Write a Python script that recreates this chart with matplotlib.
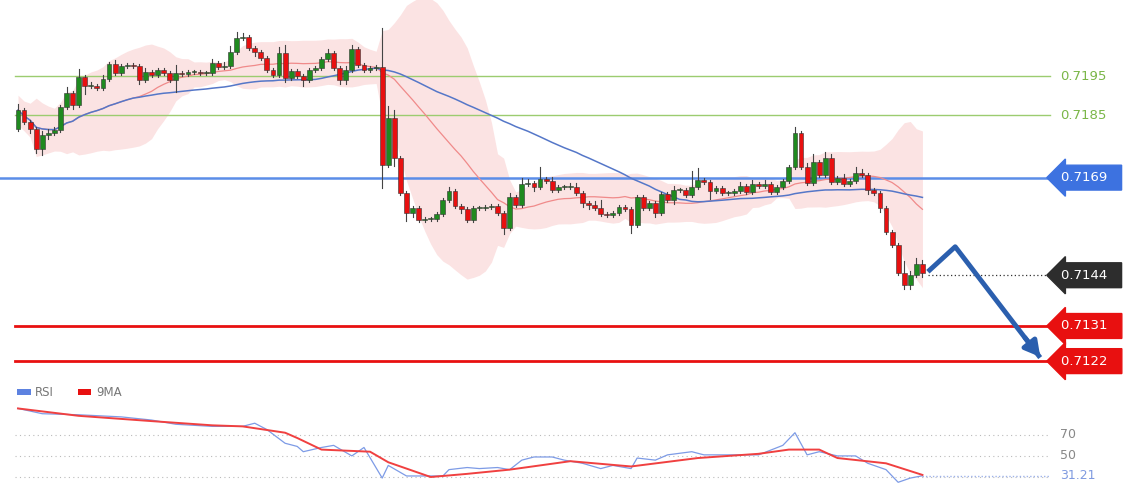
import numpy as np
import pandas as pd
import matplotlib
matplotlib.use("Agg")
import matplotlib.pyplot as plt
from matplotlib.patches import Rectangle

closes = [0.71863,0.71833,0.71815,0.71764,0.71799,0.71805,0.71812,0.71871,0.71907,0.71876,
0.71948,0.71925,0.71925,0.71920,0.71943,0.71981,0.71958,0.71976,0.71979,0.71976,
0.71940,0.71961,0.71953,0.71966,0.71958,0.71940,0.71958,0.71956,0.71961,0.71961,
0.71958,0.71958,0.71984,0.71973,0.71976,0.72012,0.72048,0.72050,0.72022,0.72012,
0.71997,0.71966,0.71953,0.72009,0.71945,0.71963,0.71950,0.71940,0.71966,0.71971,
0.71994,0.72009,0.71971,0.71940,0.71966,0.72020,0.71979,0.71966,0.71971,0.71973,
0.71723,0.71843,0.71741,0.71651,0.71600,0.71613,0.71582,0.71584,0.71584,0.71597,
0.71633,0.71656,0.71618,0.71610,0.71582,0.71613,0.71613,0.71615,0.71618,0.71600,
0.71561,0.71641,0.71620,0.71674,0.71677,0.71666,0.71687,0.71682,0.71659,0.71666,
0.71666,0.71666,0.71651,0.71625,0.71620,0.71613,0.71597,0.71595,0.71600,0.71615,
0.71610,0.71569,0.71641,0.71613,0.71625,0.71600,0.71648,0.71633,0.71659,0.71659,
0.71646,0.71666,0.71684,0.71679,0.71656,0.71664,0.71651,0.71651,0.71656,0.71669,
0.71653,0.71674,0.71669,0.71674,0.71653,0.71666,0.71682,0.71718,0.71805,0.71718,
0.71677,0.71730,0.71697,0.71741,0.71679,0.71689,0.71674,0.71682,0.71702,0.71697,
0.71659,0.71651,0.71613,0.71551,0.71518,0.71446,0.71415,0.71441,0.71469,0.71446]
first_open = 0.71815
# wick lengths in pips
up_wick = [1.5,0.5,0.5,0.5,1,1,0.8,0.5,1.5,0.5, 2,0.5,1,0.5,1,0.5,1,0.5,0.5,0.5,
0.5,1,0.5,0.5,0.5,0.5,2,0.5,0.5,0.5, 0.5,0.5,1,0.5,1,1.5,1.5,1,0.5,0.5,
0.5,0.5,0.5,1.5,2,0.5,0.5,0.5,0.5,0.5, 0.5,1,0.5,0.5,1,1,0.5,0.5,0.5,0.5,
10,3,2,0.5,0.5,0.5,0.5,0.5,0.5,0.5, 0.5,1,0.5,0.5,0.5,0.5,0.5,0.5,0.5,0.5,
0.5,1,0.5,1.5,1,0.5,3,0.5,1,0.5, 0.5,1,1,0.5,0.5,1,2,0.5,0.5,0.5,
0.5,0.5,0.5,0.5,0.5,0.5,0.5,0.5,1,0.5, 0.5,4,3,0.5,0.5,0.5,0.5,0.5,0.5,1,
0.5,1,0.5,1,0.5,0.5,0.5,0.5,1.5,0.5, 1,2,0.5,1.5,1,0.5,1,0.5,1.5,1,
0.5,0.5,0.5,0.5,0.5,0.5,3,1,1.5,1]
down_wick = [0.5,0.5,1,1,1.5,1,0.5,0.5,0.5,1, 0.5,2,0.5,0.5,0.5,0.5,0.5,0.5,0.5,0.5,
1,0.5,0.5,0.5,0.5,0.5,3,0.5,0.5,0.5, 0.5,0.5,0.5,0.5,0.5,0.5,0.5,0.5,0.5,1,
0.5,0.5,0.5,0.5,1,0.5,0.5,1.5,0.5,0.5, 0.5,0.5,0.5,1,1,0.5,0.5,0.5,0.5,0.5,
6,0.5,2,0.5,2,1,0.5,0.5,0.5,0.5, 0.5,0.5,0.5,1,0.5,0.5,0.5,0.5,0.5,0.5,
1.5,0.5,0.5,0.5,0.5,1,0.5,0.5,0.5,0.5, 0.5,0.5,0.5,1,1,0.5,0.5,0.5,0.5,0.5,
0.5,2,0.5,0.5,0.5,1,0.5,0.5,1,0.5, 0.5,0.5,0.5,0.5,2,0.5,0.5,0.5,0.5,0.5,
0.5,0.5,0.5,0.5,0.5,0.5,0.5,0.5,0.5,0.5, 0.5,0.5,0.5,0.5,0.5,0.5,0.5,0.5,0.5,0.5,
1,0.5,1,0.5,0.5,0.5,1,1,0.5,1]

rsi_idx = [0,4,10,17,22,26,32,37,39,41,44,46,47,50,52,55,57,60,61,64,66,70,71,74,76,79,81,83,85,88,
           90,93,96,98,101,102,105,107,111,113,116,119,122,126,128,130,132,135,138,140,143,145,147,149]
rsi_val = [95,90,89,87,84,80,78,78,81,75,62,59,54,58,60,50,58,29,41,31,31,31,37,39,38,39,37,46,49,49,
           46,43,38,41,38,48,46,51,54,51,51,51,51,60,72,51,54,50,50,43,37,25,29,31.21]
ma_idx = [0,10,22,32,37,44,46,50,58,61,68,74,81,91,101,112,122,127,132,135,143,149]
ma_val = [95,88,83,79,78,72,67,56,54,44,30,33,37,45,40,48,52,56,56,48,43,32]

levels_green = [0.7195, 0.7185]
level_blue = 0.7169
level_last = 0.7144
levels_red = [0.7131, 0.7122]
arrow_x = [149.9, 154.4, 168.4]
arrow_y = [0.71449, 0.71513, 0.71229]

n = len(closes)
c = np.array(closes)
o = np.concatenate([[first_open], c[:-1]])
hi = np.maximum(o, c) + np.array(up_wick[:n]) * 1e-4
lo = np.minimum(o, c) - np.array(down_wick[:n]) * 1e-4
idx = np.arange(n)

s = pd.Series(c)
mid = s.rolling(20, min_periods=1).mean()
sd = s.rolling(20, min_periods=2).std().bfill()
ma_long = s.rolling(50, min_periods=1).mean()

fig = plt.figure(figsize=(11.4, 5), dpi=100)
fig.patch.set_facecolor("white")
xl = (-18/6.07, (1140-18)/6.07)

ax = fig.add_axes([0, 0.24, 1, 0.76])
ax.set_xlim(*xl)
ax.set_ylim(0.72145 - 380/39040, 0.72145)
ax.axis("off")

ax.fill_between(idx, mid - 1.8*sd, mid + 1.8*sd, color="#fbdcdc", alpha=0.8, lw=0, zorder=1)
ax.plot(idx, mid, color="#f08a8a", lw=0.9, zorder=2)
ax.plot(idx, ma_long, color="#5577c8", lw=1.1, zorder=2)

xlab = (1053-18)/6.07
for lv in levels_green:
    ax.plot([-0.5, xlab-0.5], [lv, lv], color="#9ccc70", lw=1, zorder=1.5)
    ax.text(xlab+1.2, lv, f"{lv:.4f}", color="#7ab648", fontsize=9.5, va="center", ha="left")
ax.plot([xl[0], xlab], [level_blue]*2, color="#5b8de8", lw=1.8, zorder=1.5)
for lv in levels_red:
    ax.plot([-0.5, xlab], [lv, lv], color="#e81010", lw=2, zorder=1.5)
ax.plot([n, xlab], [level_last]*2, color="#333333", lw=0.9, ls=(0, (1, 2)))

def tag(v, fc):
    ax.text(xlab+1.3, v, f"{v:.4f}  ", color="white", fontsize=9.5, va="center", ha="left",
            bbox=dict(boxstyle="larrow,pad=0.45", fc=fc, ec=fc), zorder=6)
tag(level_blue, "#3d72e0")
tag(level_last, "#2d2d2d")
for lv in levels_red:
    tag(lv, "#e81010")

for i in range(n):
    col = "#1f8a1f" if c[i] >= o[i] else "#e81010"
    ax.plot([i, i], [lo[i], hi[i]], color="#444444", lw=0.8, zorder=3)
    h = max(abs(c[i]-o[i]), 0.000015)
    ax.add_patch(Rectangle((i-0.4, min(o[i], c[i])), 0.8, h, fc=col, ec="#333333", lw=0.4, zorder=4))

ax.plot(arrow_x, arrow_y, color="#2b5fae", lw=3.5, solid_capstyle="butt", zorder=5)
ax.annotate("", xy=(arrow_x[2]+0.3, arrow_y[2]-0.00004), xytext=(arrow_x[1]+(arrow_x[2]-arrow_x[1])*0.8, arrow_y[1]+(arrow_y[2]-arrow_y[1])*0.8),
            arrowprops=dict(arrowstyle="-|>,head_width=0.5,head_length=0.9", color="#2b5fae", lw=3.5), zorder=5)

# RSI panel
ax2 = fig.add_axes([0, 0.02, 1, 0.18])
ax2.set_xlim(*xl)
ax2.set_ylim(17.7, 103)
ax2.axis("off")
for g in [70, 50, 30]:
    ax2.plot([-0.5, (1050-18)/6.07], [g, g], color="#bbbbbb", lw=0.8, ls=(0, (1, 3)))
ax2.text((1060-18)/6.07, 70, "70", color="#888888", fontsize=9, va="center")
ax2.text((1060-18)/6.07, 50, "50", color="#888888", fontsize=9, va="center")
ax2.text((1060-18)/6.07, 31.21, "31.21", color="#7f9ae0", fontsize=9, va="center")
ax2.plot([149, (1050-18)/6.07], [31.21, 31.21], color="#9fb3ea", lw=1, ls=(0, (1, 1.5)))
ax2.plot(rsi_idx, rsi_val, color="#7d9be6", lw=0.9)
ax2.plot(ma_idx, ma_val, color="#f04040", lw=1.4)

fig.add_artist(Rectangle((0.015, 0.210), 0.012, 0.012, transform=fig.transFigure, fc="#5d82e0", ec="none"))
fig.text(0.031, 0.216, "RSI", fontsize=8.5, color="#777777", va="center")
fig.add_artist(Rectangle((0.068, 0.210), 0.012, 0.012, transform=fig.transFigure, fc="#e81010", ec="none"))
fig.text(0.084, 0.216, "9MA", fontsize=8.5, color="#777777", va="center")

fig.savefig("out.png", dpi=100, facecolor="white")
